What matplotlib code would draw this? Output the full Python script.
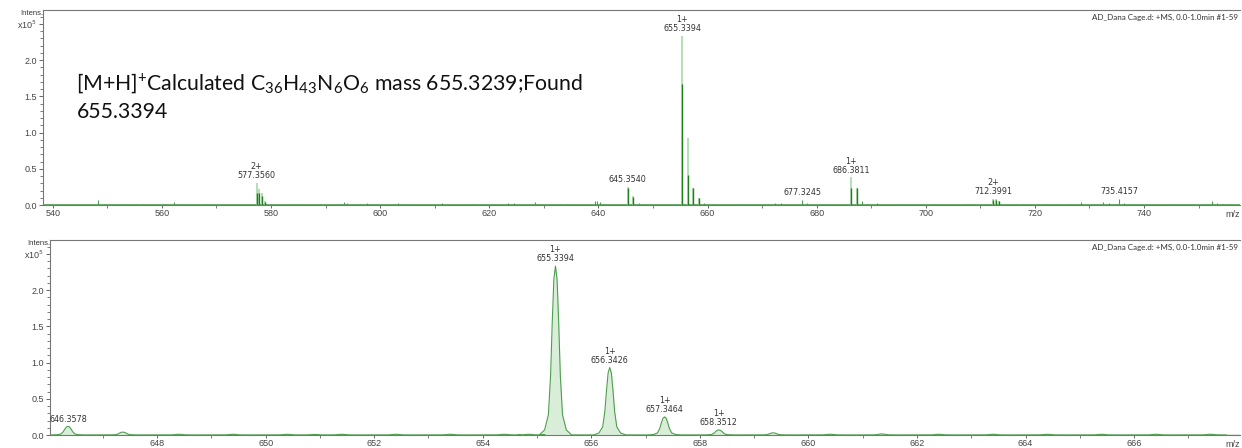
import matplotlib.pyplot as plt
from matplotlib.ticker import MultipleLocator
import numpy as np

plt.rcParams['mathtext.fontset'] = 'custom'
plt.rcParams['mathtext.rm'] = 'Lato'
plt.rcParams['mathtext.it'] = 'Lato:italic'

# --- top panel: wide scan (stick spectrum), intensities in 1e5 ---
main_mz = [577.36, 577.86, 578.36, 578.86, 645.35, 646.36, 655.34, 656.34,
           657.35, 658.35, 686.38, 687.38, 712.40, 712.90, 713.40]
main_profile = [0.31, 0.22, 0.17, 0.06, 0.25, 0.12, 2.33, 0.93,
                0.24, 0.10, 0.38, 0.24, 0.08, 0.08, 0.06]
main_centroid = [0.17, 0.16, 0.12, 0.04, 0.24, 0.11, 1.67, 0.41,
                 0.23, 0.09, 0.23, 0.23, 0.07, 0.07, 0.05]

noise_mz = [548.3, 549.3, 553.0, 556.5, 562.3, 563.3, 568.0, 583.5, 585.0, 589.0,
            593.4, 594.0, 597.6, 598.5, 603.3, 604.3, 611.4, 617.0, 623.4, 624.5,
            628.4, 629.0, 633.0, 639.4, 639.8, 640.3, 641.0, 647.4, 659.4, 661.0,
            666.0, 672.3, 673.4, 677.32, 678.3, 688.4, 689.4, 691.0, 695.0, 701.5,
            707.4, 708.2, 708.9, 716.5, 722.0, 724.0, 726.5, 728.4, 732.4, 733.5,
            735.42, 736.4, 737.4, 745.0, 750.5, 752.4, 753.4, 754.5, 756.0]
noise_int = [0.07, 0.02, 0.01, 0.01, 0.04, 0.02, 0.01, 0.02, 0.015, 0.01,
             0.04, 0.03, 0.03, 0.02, 0.03, 0.02, 0.03, 0.01, 0.03, 0.03,
             0.04, 0.02, 0.01, 0.06, 0.05, 0.04, 0.02, 0.03, 0.03, 0.015,
             0.01, 0.03, 0.03, 0.07, 0.03, 0.06, 0.02, 0.03, 0.01, 0.015,
             0.02, 0.02, 0.02, 0.015, 0.015, 0.02, 0.015, 0.04, 0.04, 0.03,
             0.08, 0.03, 0.02, 0.015, 0.015, 0.05, 0.03, 0.02, 0.02]

top_labels = [(577.36, 0.31, '2+\n577.3560'), (645.35, 0.25, '645.3540'),
              (655.34, 2.33, '1+\n655.3394'), (677.32, 0.07, '677.3245'),
              (686.38, 0.38, '1+\n686.3811'), (712.40, 0.08, '2+\n712.3991'),
              (735.42, 0.08, '735.4157')]

# --- bottom panel: zoom on isotope pattern (profile spectrum) ---
zoom_mz = [646.36, 647.37, 648.40, 649.40, 650.40, 650.90, 651.40, 652.40, 653.40,
           654.40, 654.85, 655.34, 656.34, 657.35, 658.35, 659.35, 660.40, 661.35,
           662.40, 663.40, 664.40, 665.40, 666.40, 667.40]
zoom_int = [0.12, 0.04, 0.01, 0.01, 0.01, 0.008, 0.01, 0.01, 0.01,
            0.01, 0.01, 2.33, 0.93, 0.25, 0.07, 0.03, 0.01, 0.015,
            0.01, 0.01, 0.01, 0.01, 0.01, 0.01]
shape_dx = [-0.30, -0.20, -0.13, -0.09, -0.06, -0.03, 0.0, 0.03, 0.06, 0.09, 0.13, 0.20, 0.30]
shape_frac = [0.0, 0.03, 0.12, 0.35, 0.66, 0.92, 1.0, 0.92, 0.66, 0.35, 0.12, 0.03, 0.0]

bottom_labels = [(646.36, 0.12, '646.3578'), (655.34, 2.33, '1+\n655.3394'),
                 (656.34, 0.93, '1+\n656.3426'), (657.35, 0.25, '1+\n657.3464'),
                 (658.35, 0.07, '1+\n658.3512')]

header = 'AD_Dana Cage.d: +MS, 0.0-1.0min #1-59'
light = '#a9d8a9'
dark = '#1f7f1f'
mid = '#4d9e4d'
fill = '#d8eed8'

fig = plt.figure(figsize=(12.42, 4.48), dpi=100)
ax1 = fig.add_axes([0.0346, 0.5424, 0.9638, 0.4353])
ax2 = fig.add_axes([0.0403, 0.0290, 0.9581, 0.4353])


def style(ax, major, minor):
    for s in ['left', 'bottom', 'top']:
        ax.spines[s].set_color('#777777')
        ax.spines[s].set_linewidth(0.8)
    ax.spines['right'].set_visible(False)
    ax.set_ylim(0, 2.69)
    ax.set_yticks([0, 0.5, 1.0, 1.5, 2.0, 2.5])
    ax.set_yticklabels(['0.0', '0.5', '1.0', '1.5', '2.0', 'x10$^5$'])
    ax.yaxis.set_minor_locator(MultipleLocator(0.1))
    ax.xaxis.set_major_locator(MultipleLocator(major))
    ax.xaxis.set_minor_locator(MultipleLocator(minor))
    ax.tick_params(which='major', length=3, width=0.7, color='#666666',
                   labelsize=6.5, labelcolor='#444444', pad=1.5)
    ax.tick_params(axis='x', which='major', length=2, pad=1)
    ax.tick_params(which='minor', length=2, width=0.6, color='#666666')
    for lab in ax.get_xticklabels() + ax.get_yticklabels():
        lab.set_fontfamily('Liberation Sans')
    ax.text(0.0, 0.98, 'Intens.', transform=ax.transAxes, ha='right', va='center',
            fontsize=5.5, color='#333333', family='Liberation Sans')
    ax.text(0.998, 0.964, header, transform=ax.transAxes, ha='right', va='center',
            fontsize=5.8, color='#333333', family='Lato')
    ax.text(0.994, -0.05, 'm/z', transform=ax.transAxes, ha='center', va='center',
            fontsize=6.5, color='#444444', family='Liberation Sans')


# top panel
ax1.set_xlim(538.2, 757.6)
ax1.axhline(0, color=mid, lw=1.2, zorder=1)
ax1.vlines(noise_mz, 0, noise_int, color=mid, lw=0.8)
ax1.vlines(main_mz, 0, main_profile, color=light, lw=1.2)
ax1.vlines(main_mz, 0, main_centroid, color=dark, lw=1.0)
for x, y, t in top_labels:
    ax1.annotate(t, (x, y), xytext=(0, 2), textcoords='offset points', ha='center',
                 va='bottom', fontsize=5.8, color='#333333', linespacing=1.0)
ax1.text(0.028, 0.555,
         r'[M+H]$^{+}$Calculated C$_{36}$H$_{43}$N$_{6}$O$_{6}$ mass 655.3239;Found' + '\n655.3394',
         transform=ax1.transAxes, ha='left', va='center', fontsize=15.3,
         family='Lato', color='#111111', linespacing=1.4)
style(ax1, 20, 10)

# bottom panel
xs, ys = [], []
for c, h in zip(zoom_mz, zoom_int):
    xs.extend(c + d for d in shape_dx)
    ys.extend(h * f for f in shape_frac)
xs = np.array(xs)
ys = np.array(ys)
ax2.set_xlim(646.03, 667.95)
ax2.axhline(0, color=mid, lw=1.0, zorder=1)
ax2.fill_between(xs, 0, ys, color=fill, lw=0, zorder=2)
ax2.plot(xs, ys, color=mid, lw=0.8, zorder=3)
for x, y, t in bottom_labels:
    ax2.annotate(t, (x, y), xytext=(0, 2), textcoords='offset points', ha='center',
                 va='bottom', fontsize=5.8, color='#333333', linespacing=1.0)
style(ax2, 2, 1)

fig.savefig('out.png', dpi=100)
